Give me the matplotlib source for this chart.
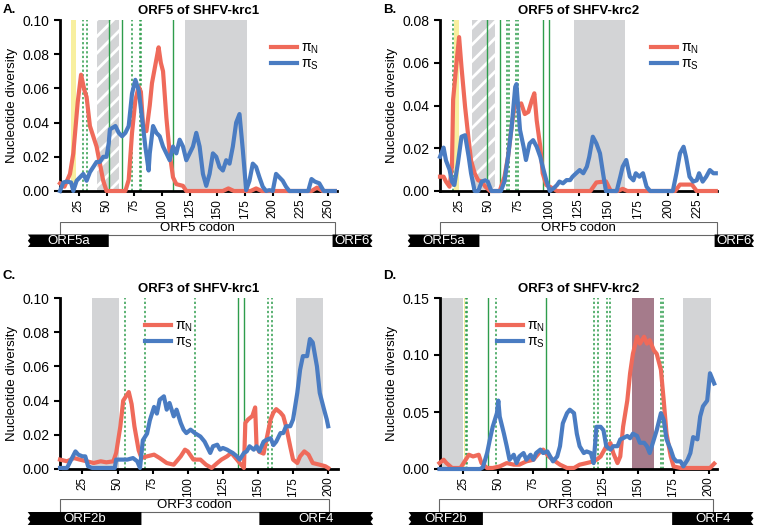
import matplotlib.pyplot as plt
from matplotlib.patches import Rectangle, Polygon
from matplotlib.ticker import FormatStrFormatter
from matplotlib.lines import Line2D

plt.rcParams['font.family'] = ['Liberation Sans', 'DejaVu Sans']
plt.rcParams['mathtext.fontset'] = 'custom'
plt.rcParams['mathtext.rm'] = 'Liberation Sans'
plt.rcParams['hatch.linewidth'] = 2.0

RED = '#ef6a5a'
BLUE = '#4a7cc2'
GREY = '#d3d4d6'
GREEN = '#2e9d4c'
YELLOW = '#f8ef9f'
MAUVE = '#a57b8b'

# ---- panel A: ORF5 of SHFV-krc1 ----
a_red_x = [8, 12, 17, 20, 24, 27, 30, 32, 35, 38, 41, 44, 47, 50, 67, 70, 73, 76, 79, 81, 83, 86, 89, 91,
           95, 97, 99, 101, 104, 107, 110, 113, 119, 122, 155, 160, 165, 180, 185, 190, 235, 240, 245, 256]
a_red_y = [0.0045, 0.0025, 0.01, 0.022, 0.052, 0.068, 0.059, 0.055, 0.038, 0.032, 0.026, 0.016, 0.006, 0, 0,
           0.0065, 0.034, 0.053, 0.061, 0.058, 0.038, 0.035, 0.05, 0.063, 0.077, 0.084, 0.075, 0.07, 0.043,
           0.022, 0.008, 0.004, 0.003, 0, 0, 0.0015, 0, 0, 0.0015, 0, 0, 0.002, 0, 0]
a_blue_x = [8, 11, 14, 18, 20, 23, 26, 29, 32, 35, 38, 41, 44, 47, 50, 52, 53, 58, 61, 64, 67, 70, 73, 76,
            79, 82, 85, 88, 89, 92, 95, 98, 101, 104, 107, 110, 113, 116, 119, 122, 125, 128, 131, 134, 137,
            140, 143, 146, 149, 152, 155, 158, 161, 164, 167, 170, 173, 176, 179, 182, 185, 188, 191, 194,
            197, 200, 203, 206, 209, 212, 215, 232, 235, 238, 242, 246, 256]
a_blue_y = [0, 0.005, 0.0055, 0.005, 0.0, 0.006, 0.008, 0.01, 0.006, 0.011, 0.014, 0.017, 0.017, 0.02, 0.02,
            0.028, 0.036, 0.038, 0.034, 0.032, 0.034, 0.038, 0.057, 0.065, 0.059, 0.043, 0.026, 0.012, 0.022,
            0.038, 0.034, 0.032, 0.026, 0.022, 0.018, 0.026, 0.022, 0.030, 0.026, 0.018, 0.022, 0.026, 0.034,
            0.026, 0.01, 0.003, 0.01, 0.022, 0.02, 0.014, 0.012, 0.018, 0.016, 0.026, 0.040, 0.045, 0.024,
            0.0005, 0.006, 0.016, 0.014, 0.008, 0.0025, 0, 0.0005, 0, 0.010, 0.008, 0.006, 0.0025, 0, 0,
            0.007, 0.0055, 0.0045, 0, 0]

# ---- panel B: ORF5 of SHFV-krc2 ----
b_red_x = [9, 12, 14, 17, 19, 20, 23, 25, 27, 30, 33, 35, 38, 41, 44, 47, 51, 59, 63, 66, 69, 72, 74, 77,
           80, 83, 86, 88, 90, 93, 95, 98, 101, 107, 135, 140, 148, 152, 158, 162, 166, 206, 210, 220, 224, 240]
b_red_y = [0.0067, 0.0067, 0.0044, 0.002, 0.0114, 0.0428, 0.061, 0.072, 0.058, 0.0394, 0.0239, 0.0143,
           0.0083, 0.005, 0.0044, 0.002, 0, 0, 0.0067, 0.0161, 0.03, 0.0426, 0.0394, 0.041, 0.036, 0.037,
           0.0426, 0.0457, 0.033, 0.0207, 0.0083, 0.0028, 0.002, 0, 0, 0.004, 0.0045, 0, 0, 0.001, 0, 0,
           0.003, 0.003, 0, 0]
b_blue_x = [9, 12, 14, 16, 17, 19, 21, 24, 27, 30, 33, 35, 38, 41, 44, 47, 49, 52, 60, 63, 66, 69, 72, 73,
            76, 79, 81, 84, 87, 90, 93, 95, 98, 101, 104, 107, 109, 112, 115, 118, 120, 123, 126, 129, 132,
            134, 137, 140, 143, 146, 148, 157, 160, 162, 165, 168, 171, 173, 176, 179, 182, 185, 204, 207,
            210, 213, 215, 218, 221, 224, 226, 229, 232, 235, 238, 240]
b_blue_y = [0.016, 0.0203, 0.0143, 0.0114, 0.01, 0.0044, 0.0028, 0.013, 0.0254, 0.0261, 0.0161, 0.0083, 0,
            0, 0.0044, 0.005, 0.0044, 0, 0, 0.0044, 0.0161, 0.03, 0.0487, 0.05, 0.0286, 0.0207, 0.0145,
            0.0222, 0.0238, 0.0207, 0.016, 0.0114, 0.0051, 0, 0.0012, 0.0028, 0.0044, 0.0036, 0.0051,
            0.0051, 0.0067, 0.0083, 0.0098, 0.0083, 0.0114, 0.016, 0.0254, 0.0222, 0.0176, 0.0067, 0, 0,
            0.0067, 0.0114, 0.0145, 0.0067, 0.005, 0.0083, 0.0067, 0.0083, 0.002, 0, 0, 0.0083, 0.0176,
            0.0207, 0.016, 0.0067, 0.0044, 0.005, 0.0083, 0.0044, 0.0067, 0.0098, 0.0083, 0.0083]

# ---- panel C: ORF3 of SHFV-krc1 ----
c_red_x = [9, 14, 19, 23, 28, 33, 38, 42, 47, 49, 52, 54, 58, 60, 62, 65, 67, 71, 76, 80, 85, 90, 95, 98,
           100, 104, 109, 113, 117, 121, 124, 128, 131, 135, 137, 140, 141, 143, 146, 148, 149, 151, 154,
           156, 159, 161, 163, 166, 168, 170, 173, 175, 178, 180, 183, 186, 189, 194, 198, 200]
c_red_y = [0.0055, 0.0045, 0.0064, 0.0055, 0.0045, 0.0035, 0.0045, 0.0039, 0.0045, 0.0094, 0.025, 0.040,
           0.045, 0.038, 0.025, 0.011, 0.0064, 0.0074, 0.0084, 0.0064, 0.0035, 0.0025, 0.0074, 0.0113,
           0.0103, 0.0055, 0.0055, 0.0025, 0.0006, 0.0035, 0.0055, 0.0074, 0.0094, 0.0055, 0.0035, 0.0006,
           0.027, 0.029, 0.031, 0.036, 0.013, 0.010, 0.009, 0.017, 0.029, 0.033, 0.035, 0.033, 0.031, 0.025,
           0.013, 0.0055, 0.0035, 0.0074, 0.0103, 0.0084, 0.0035, 0.0025, 0.0016, 0.0006]
c_blue_x = [9, 14, 17, 20, 22, 25, 27, 29, 32, 48, 49, 52, 57, 61, 64, 66, 68, 71, 73, 76, 78, 80, 83, 85,
            87, 90, 92, 95, 97, 99, 102, 105, 109, 112, 116, 118, 121, 123, 125, 128, 130, 132, 135, 137,
            140, 142, 144, 147, 149, 151, 154, 156, 159, 161, 163, 166, 168, 170, 173, 175, 178, 180, 182,
            185, 187, 189, 192, 194, 197, 199, 200]
c_blue_y = [0.0006, 0.0006, 0.0055, 0.0103, 0.0084, 0.0074, 0.0074, 0.0016, 0.0006, 0.0006, 0.0055, 0.0055,
            0.0055, 0.0064, 0.0045, 0.0006, 0.0168, 0.0207, 0.0285, 0.0363, 0.0324, 0.0405, 0.0425, 0.0347,
            0.0386, 0.0308, 0.0347, 0.0269, 0.023, 0.021, 0.023, 0.021, 0.019, 0.016, 0.0094, 0.0133, 0.0142,
            0.0113, 0.0123, 0.0113, 0.0103, 0.0094, 0.0074, 0.0055, 0.0094, 0.0103, 0.0133, 0.0113, 0.0133,
            0.0103, 0.016, 0.017, 0.018, 0.014, 0.016, 0.021, 0.021, 0.025, 0.025, 0.029, 0.0445, 0.058,
            0.066, 0.066, 0.076, 0.074, 0.060, 0.0445, 0.035, 0.029, 0.025]

# ---- panel D: ORF3 of SHFV-krc2 ----
d_red_x = [8, 11, 13, 17, 23, 26, 29, 32, 36, 38, 42, 46, 51, 56, 61, 65, 70, 75, 79, 82, 86, 89, 94, 99,
           104, 108, 113, 118, 120, 123, 125, 127, 130, 132, 135, 137, 139, 142, 144, 146, 149, 151, 154,
           156, 158, 161, 163, 166, 168, 170, 173, 175, 180, 201, 204]
d_red_y = [0.0052, 0.0081, 0.0052, 0.0009, 0.0009, 0.0067, 0.0125, 0.011, 0.0125, 0.0052, 0.0009, 0.0009,
           0.0023, 0.0052, 0.0038, 0.0038, 0.0067, 0.0081, 0.014, 0.017, 0.011, 0.0081, 0.0038, 0.0009,
           0.0009, 0.0038, 0.0052, 0.0067, 0.0081, 0.011, 0.0154, 0.0198, 0.0227, 0.014, 0.0052, 0.011,
           0.037, 0.060, 0.084, 0.101, 0.116, 0.110, 0.116, 0.110, 0.113, 0.104, 0.101, 0.087, 0.060, 0.031,
           0.011, 0.0023, 0.0009, 0.0009, 0.0047]
d_blue_x = [8, 37, 39, 42, 44, 46, 49, 50, 51, 54, 56, 58, 61, 63, 65, 68, 70, 73, 75, 77, 80, 82, 85, 87,
            89, 92, 94, 96, 99, 101, 104, 106, 108, 111, 113, 116, 118, 120, 123, 125, 127, 130, 132, 135,
            137, 139, 142, 144, 146, 149, 151, 154, 156, 158, 161, 163, 166, 168, 170, 173, 175, 177, 180,
            182, 185, 187, 189, 192, 194, 196, 199, 201, 204]
d_blue_y = [0, 0, 0.0015, 0.014, 0.026, 0.037, 0.049, 0.060, 0.046, 0.031, 0.020, 0.0081, 0.0125, 0.0052,
            0.011, 0.014, 0.0081, 0.0125, 0.0081, 0.014, 0.017, 0.014, 0.0154, 0.011, 0.0067, 0.011, 0.020,
            0.040, 0.049, 0.052, 0.049, 0.031, 0.020, 0.014, 0.0154, 0.014, 0.0052, 0.037, 0.037, 0.034,
            0.020, 0.017, 0.020, 0.020, 0.026, 0.027, 0.029, 0.027, 0.031, 0.029, 0.023, 0.023, 0.020, 0.014,
            0.026, 0.034, 0.049, 0.043, 0.026, 0.017, 0.0096, 0.0067, 0.0067, 0.0023, 0.0081, 0.014, 0.028,
            0.026, 0.046, 0.055, 0.060, 0.084, 0.075]

W, H = 761, 530
fig = plt.figure(figsize=(W / 100, H / 100), dpi=100)


def px_axes(l, t, r, b):
    return fig.add_axes([l / W, 1 - b / H, (r - l) / W, (b - t) / H])


panels = [
    dict(letter='A.', title='ORF5 of SHFV-krc1', box=(60, 20, 337, 191), xlim=(8, 258), ymax=0.10,
         yticks=[0, 0.02, 0.04, 0.06, 0.08, 0.10], xticks=range(25, 251, 25),
         red=(a_red_x, a_red_y), blue=(a_blue_x, a_blue_y),
         grey=[(121, 177)], hatch=[(41, 61)], yellow=[(18, 22)], mauve=[],
         solid=[52, 64, 110], dotted=[29, 32, 73, 80, 81.5], leg=(0.76, 0.88),
         track=(25, 222, 378, 247), codon=(8, 256, 'ORF5 codon'),
         gl=(-21, 52, 'ORF5a'), gr=(254, 290, 'ORF6')),
    dict(letter='B.', title='ORF5 of SHFV-krc2', box=(440, 20, 717, 191), xlim=(9, 241), ymax=0.08,
         yticks=[0, 0.02, 0.04, 0.06, 0.08], xticks=range(25, 226, 25),
         red=(b_red_x, b_red_y), blue=(b_blue_x, b_blue_y),
         grey=[(121, 164)], hatch=[(36, 55)], yellow=[(20.6, 24.8)], mauve=[],
         solid=[48, 59.6, 95.3, 100.7], dotted=[20, 65.5, 67, 72.5, 74], leg=(0.76, 0.88),
         track=(405, 222, 758, 247), codon=(9, 241, 'ORF5 codon'),
         gl=(-18, 42, 'ORF5a'), gr=(239, 272, 'ORF6')),
    dict(letter='C.', title='ORF3 of SHFV-krc1', box=(60, 298, 338, 469), xlim=(9, 207), ymax=0.10,
         yticks=[0, 0.02, 0.04, 0.06, 0.08, 0.10], xticks=range(25, 201, 25),
         red=(c_red_x, c_red_y), blue=(c_blue_x, c_blue_y),
         grey=[(31.6, 51), (177, 196)], hatch=[], yellow=[], mauve=[],
         solid=[135.7, 140.2], dotted=[55, 69.6, 105, 157.3, 159.7], leg=(0.305, 0.88),
         track=(25, 499, 378, 525), codon=(9, 200.5, 'ORF3 codon'),
         gl=(-14, 67, 'ORF2b'), gr=(151, 232, 'ORF4')),
    dict(letter='D.', title='ORF3 of SHFV-krc2', box=(440, 298, 717, 469), xlim=(8.4, 206), ymax=0.15,
         yticks=[0, 0.05, 0.10, 0.15], xticks=range(25, 201, 25),
         red=(d_red_x, d_red_y), blue=(d_blue_x, d_blue_y),
         grey=[(8.4, 25), (181.4, 201.7)], hatch=[], yellow=[(25.3, 26)], mauve=[(145.7, 161)],
         solid=[42.4, 83.8], dotted=[27, 28, 48.6, 118.6, 121, 127.4, 130, 165.7, 167.4],
         leg=(0.205, 0.88),
         track=(405, 499, 758, 525), codon=(7.7, 203, 'ORF3 codon'),
         gl=(-14, 39, 'ORF2b'), gr=(174, 232, 'ORF4')),
]

for p in panels:
    l, t, r, b = p['box']
    ax = px_axes(l, t, r, b)
    ax.set_xlim(*p['xlim'])
    ax.set_ylim(0, p['ymax'])
    for s, e in p['grey']:
        ax.axvspan(s, e, color=GREY, lw=0, zorder=0)
    for s, e in p['hatch']:
        ax.axvspan(s, e, facecolor=GREY, edgecolor='white', hatch='//', lw=0, zorder=0)
    for s, e in p['yellow']:
        ax.axvspan(s, e, color=YELLOW, lw=0, zorder=0)
    for s, e in p['mauve']:
        ax.axvspan(s, e, color=MAUVE, lw=0, zorder=0)
    for x in p['solid']:
        ax.axvline(x, color=GREEN, lw=1.0, zorder=1)
    for x in p['dotted']:
        ax.axvline(x, color=GREEN, lw=1.1, ls=(0, (1.5, 1.5)), zorder=1)

    ax.plot(*p['red'], color=RED, lw=3, clip_on=False, zorder=3)
    ax.plot(*p['blue'], color=BLUE, lw=3, clip_on=False, zorder=3)

    for side in ['top', 'right']:
        ax.spines[side].set_visible(False)
    for side in ['left', 'bottom']:
        ax.spines[side].set_linewidth(2)
    ax.set_yticks(p['yticks'])
    ax.yaxis.set_major_formatter(FormatStrFormatter('%.2f'))
    ax.set_xticks(list(p['xticks']))
    ax.tick_params(axis='y', labelsize=10, width=1.5, length=4)
    ax.tick_params(axis='x', labelsize=8.5, width=1.5, length=3.5, pad=2, labelrotation=90)
    ax.set_ylabel('Nucleotide diversity', fontsize=9.5, labelpad=3)
    ax.set_title(p['title'], fontsize=9.5, fontweight='bold', pad=4)
    fig.text((l - 57) / W, 1 - 10 / H if t < 100 else 1 - 276 / H, p['letter'],
             fontsize=9.5, fontweight='bold', va='center')

    handles = [Line2D([], [], color=RED, lw=3), Line2D([], [], color=BLUE, lw=3)]
    ax.legend(handles, ['π$_\\mathrm{N}$', 'π$_\\mathrm{S}$'], loc='upper left',
              bbox_to_anchor=p['leg'], frameon=False, fontsize=10, handlelength=1.9,
              handletextpad=0.3, labelspacing=0.05, borderpad=0, borderaxespad=0)

    # gene map underneath
    x0, x1 = p['xlim']
    k = (x1 - x0) / (r - l)
    tl, tt, tr, tb = p['track']
    ann = px_axes(tl, tt, tr, tb)
    ann.set_xlim(x0 + (tl - l) * k, x0 + (tr - l) * k)
    ann.set_ylim(0, 2)
    ann.axis('off')
    cs, ce, clab = p['codon']
    ann.add_patch(Rectangle((cs, 1), ce - cs, 1, facecolor='white', edgecolor='#666666', lw=0.8))
    ann.text((cs + ce) / 2, 1.5, clab, ha='center', va='center', fontsize=9.5)
    d = 2.5 * k
    gs, ge, glab = p['gl']
    ann.add_patch(Polygon([(gs, 0), (gs + d, 0.25), (gs, 0.5), (gs + d, 0.75), (gs, 1), (ge, 1), (ge, 0)],
                          closed=True, facecolor='black', lw=0))
    ann.text((gs + ge) / 2, 0.45, glab, ha='center', va='center', fontsize=9.5, color='white')
    gs, ge, glab = p['gr']
    ann.add_patch(Polygon([(gs, 0), (gs, 1), (ge, 1), (ge - d, 0.75), (ge, 0.5), (ge - d, 0.25), (ge, 0)],
                          closed=True, facecolor='black', lw=0))
    ann.text((gs + ge) / 2, 0.45, glab, ha='center', va='center', fontsize=9.5, color='white')

fig.savefig('out.png', dpi=100)
